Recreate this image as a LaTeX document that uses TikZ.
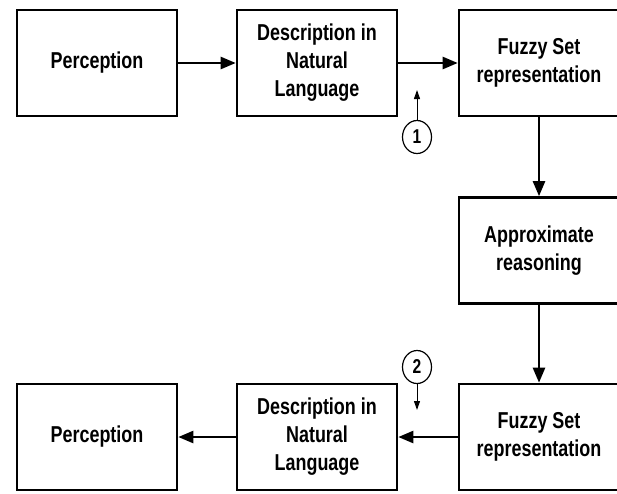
\documentclass[tikz,border=0pt]{standalone}
\usepackage{fontspec}
\newfontfamily\nar{Liberation Sans}[FakeStretch=0.78]
\usetikzlibrary{arrows.meta,shapes.geometric}
\begin{document}
\begin{tikzpicture}[x=1pt,y=-1pt,
  box/.style={draw,line width=2.6pt,minimum width=160pt,minimum height=106pt,inner sep=0pt,
    align=center,font=\nar\fontsize{23}{28}\selectfont\bfseries},
  flow/.style={line width=2.4pt,-{Triangle[length=15pt,width=12pt]}},
  num/.style={draw,ellipse,line width=1.2pt,minimum width=29pt,minimum height=33pt,inner sep=0pt,font=\nar\fontsize{20}{22}\selectfont\bfseries},
  thin/.style={line width=1pt,-{Triangle[length=9pt,width=6pt]}}]
\useasboundingbox (0,0) rectangle (617,493);
\clip (0,0) rectangle (617,493);
\node[box] (p1) at (97,63) {Perception};
\node[box] (d1) at (317,63) {Description in\\Natural\\Language};
\node[box] (f1) at (539,63) {Fuzzy Set\\representation};
\node[box] (ar) at (539,250.5) {Approximate\\reasoning};
\node[box] (f2) at (539,437) {Fuzzy Set\\representation};
\node[box] (d2) at (317,437) {Description in\\Natural\\Language};
\node[box] (p2) at (97,437) {Perception};
\draw[flow] (p1) -- (d1);
\draw[flow] (d1) -- (f1);
\draw[flow] (f1) -- (ar);
\draw[flow] (ar) -- (f2);
\draw[flow] (f2) -- (d2);
\draw[flow] (d2) -- (p2);
\node[num] (n1) at (417,137) {1};
\coordinate (t1) at (417,90);
\draw[thin] (n1) -- (t1);
\node[num] (n2) at (417,367) {2};
\coordinate (t2) at (417,410);
\draw[thin] (n2) -- (t2);
\end{tikzpicture}
\end{document}
